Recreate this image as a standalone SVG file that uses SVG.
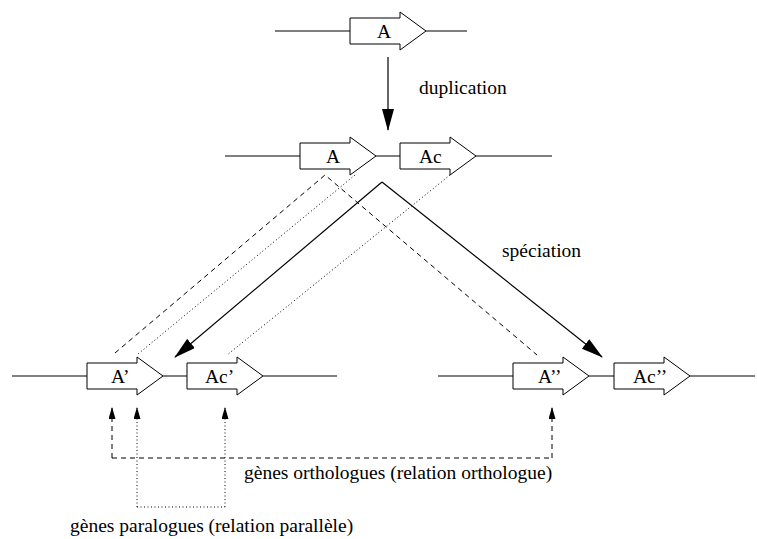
<svg xmlns="http://www.w3.org/2000/svg" xmlns:xlink="http://www.w3.org/1999/xlink" width="757" height="539" viewBox="0 0 757 539">
  <style>
    .dna { stroke: #000; stroke-width: 1; fill: none; }
    .gene { fill: #fff; stroke: #000; stroke-width: 1; }
    .lbl { font-family: "Liberation Serif", "Times New Roman", serif; font-size: 19.5px; fill: #000; }
    .solid { stroke: #000; stroke-width: 1.2; fill: none; }
    .dash { stroke: #000; stroke-width: 1; fill: none; stroke-dasharray: 5 4; }
    .dot { stroke: #000; stroke-width: 1; fill: none; stroke-dasharray: 1 2.5; }
  </style>
  <defs>
    <!-- gene drawn as a block arrow, origin at its left edge on the strand line -->
    <path id="gene" d="M0,-13 H50 V-19 L76,0 L50,19 V13 H0 Z"/>
    <marker id="bigHead" viewBox="0 0 22 12" refX="21" refY="6" markerWidth="22" markerHeight="12" markerUnits="userSpaceOnUse" orient="auto">
      <path d="M0,0 L22,6 L0,12 Z" fill="#000"/>
    </marker>
    <marker id="smallHead" viewBox="0 0 12 7" refX="11" refY="3.5" markerWidth="12" markerHeight="7" markerUnits="userSpaceOnUse" orient="auto">
      <path d="M0,0 L12,3.5 L0,7 Z" fill="#000"/>
    </marker>
  </defs>

  <rect width="757" height="539" fill="#fff"/>

  <!-- strands -->
  <g id="strands" class="dna">
    <path d="M275,31 H350 M426,31 H467"/>
    <path d="M225,156 H300 M376,156 H400 M476,156 H552"/>
    <path d="M12,376 H87 M163,376 H187 M263,376 H337"/>
    <path d="M438,376 H513 M589,376 H614 M690,376 H755"/>
  </g>

  <!-- relation lines and events -->
  <g id="connectors">
    <path class="solid" d="M388,57 V130" marker-end="url(#bigHead)"/>
    <path class="solid" d="M382,182 L175,357" marker-end="url(#bigHead)"/>
    <path class="solid" d="M382,182 L602,357" marker-end="url(#bigHead)"/>
    <path class="dash" d="M115,353 L325,175 L537,355"/>
    <path class="dot" d="M355,175 L138,354"/>
    <path class="dot" d="M450,175 L227,355"/>
    <path class="dash" d="M112,458 H552"/>
    <path class="dash" d="M112,458 V408" marker-end="url(#smallHead)"/>
    <path class="dash" d="M552,458 V408" marker-end="url(#smallHead)"/>
    <path class="dot" d="M137,507 H225"/>
    <path class="dot" d="M137,507 V408" marker-end="url(#smallHead)"/>
    <path class="dot" d="M225,507 V408" marker-end="url(#smallHead)"/>
  </g>

  <g id="gene-A-ancestral">
    <use xlink:href="#gene" href="#gene" x="350" y="31" class="gene"/>
    <text class="lbl" x="377" y="38">A</text>
  </g>
  <g id="gene-A">
    <use xlink:href="#gene" href="#gene" x="300" y="156" class="gene"/>
    <text class="lbl" x="326" y="163">A</text>
  </g>
  <g id="gene-Ac">
    <use xlink:href="#gene" href="#gene" x="400" y="156" class="gene"/>
    <text class="lbl" x="419" y="163">Ac</text>
  </g>
  <g id="gene-A1">
    <use xlink:href="#gene" href="#gene" x="87" y="376" class="gene"/>
    <text class="lbl" x="111" y="383">A’</text>
  </g>
  <g id="gene-Ac1">
    <use xlink:href="#gene" href="#gene" x="187" y="376" class="gene"/>
    <text class="lbl" x="205" y="383">Ac’</text>
  </g>
  <g id="gene-A2">
    <use xlink:href="#gene" href="#gene" x="513" y="376" class="gene"/>
    <text class="lbl" x="538" y="383">A’’</text>
  </g>
  <g id="gene-Ac2">
    <use xlink:href="#gene" href="#gene" x="614" y="376" class="gene"/>
    <text class="lbl" x="633" y="383">Ac’’</text>
  </g>

  <g id="labels">
    <text class="lbl" x="419" y="94">duplication</text>
    <text class="lbl" x="502" y="257">spéciation</text>
    <text class="lbl" x="244" y="479">gènes orthologues (relation orthologue)</text>
    <text class="lbl" x="70" y="532">gènes paralogues (relation parallèle)</text>
  </g>
</svg>
